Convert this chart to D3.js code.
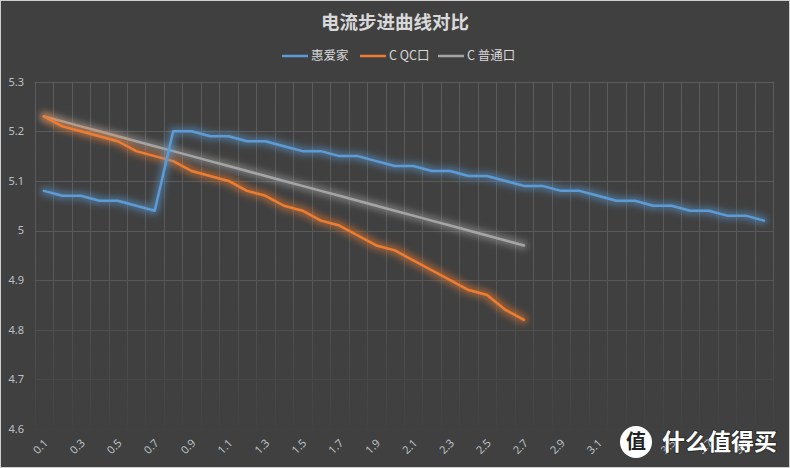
<!DOCTYPE html>
<html>
<head>
<meta charset="utf-8">
<script src="https://cdn.jsdelivr.net/npm/d3@7"></script>
<style>
  html, body { margin: 0; padding: 0; background: #404040; }
  svg { display: block; }
</style>
</head>
<body>
<div id="wrapper"></div>
<script>
const categories = ['0.1','0.2','0.3','0.4','0.5','0.6','0.7','0.8','0.9','1.0',
  '1.1','1.2','1.3','1.4','1.5','1.6','1.7','1.8','1.9','2.0',
  '2.1','2.2','2.3','2.4','2.5','2.6','2.7','2.8','2.9','3.0',
  '3.1','3.2','3.3','3.4','3.5','3.6','3.7','3.8','3.9','4.0']

const huiaijia = [5.08, 5.07, 5.07, 5.06, 5.06, 5.05, 5.04, 5.20, 5.20, 5.19,
  5.19, 5.18, 5.18, 5.17, 5.16, 5.16, 5.15, 5.15, 5.14, 5.13,
  5.13, 5.12, 5.12, 5.11, 5.11, 5.10, 5.09, 5.09, 5.08, 5.08,
  5.07, 5.06, 5.06, 5.05, 5.05, 5.04, 5.04, 5.03, 5.03, 5.02]

const cQc = [5.23, 5.21, 5.20, 5.19, 5.18, 5.16, 5.15, 5.14, 5.12, 5.11,
  5.10, 5.08, 5.07, 5.05, 5.04, 5.02, 5.01, 4.99, 4.97, 4.96,
  4.94, 4.92, 4.90, 4.88, 4.87, 4.84, 4.82]

const cNormal = [5.23, 5.22, 5.21, 5.20, 5.19, 5.18, 5.17, 5.16, 5.15, 5.14,
  5.13, 5.12, 5.11, 5.10, 5.09, 5.08, 5.07, 5.06, 5.05, 5.04,
  5.03, 5.02, 5.01, 5.00, 4.99, 4.98, 4.97]

const yTicks = [4.6, 4.7, 4.8, 4.9, 5.0, 5.1, 5.2, 5.3]
const yTickLabels = ['4.6', '4.7', '4.8', '4.9', '5', '5.1', '5.2', '5.3']

const seriesNames = ['惠爱家', 'C QC口', 'C 普通口']
const title = '电流步进曲线对比'

function renderChart (wrapper) {
  const width = 790
  const height = 468
  const left = 34.7
  const right = 773.3
  const top = 81.7
  const bottom = 429
  const colors = ['#5b9bd5', '#ed7d31', '#a5a5a5']
  const numFont = '"Noto Sans", "DejaVu Sans", sans-serif'
  const cjkFont = '"Noto Sans CJK SC", sans-serif'

  const svg = d3.select(wrapper).append('svg')
    .attr('width', width)
    .attr('height', height)

  const defs = svg.append('defs')

  // fade the grid towards the bottom like the original
  const fade = defs.append('linearGradient')
    .attr('id', 'fade')
    .attr('gradientUnits', 'userSpaceOnUse')
    .attr('x1', 0).attr('y1', top).attr('x2', 0).attr('y2', bottom)
  fade.append('stop').attr('offset', '0%').attr('stop-color', '#fff').attr('stop-opacity', 1)
  fade.append('stop').attr('offset', '50%').attr('stop-color', '#fff').attr('stop-opacity', 0.9)
  fade.append('stop').attr('offset', '100%').attr('stop-color', '#fff').attr('stop-opacity', 0.08)
  defs.append('mask').attr('id', 'gridMask')
    .append('rect')
    .attr('x', 0).attr('y', 0).attr('width', width).attr('height', height)
    .attr('fill', 'url(#fade)')

  colors.forEach((c, i) => {
    const f = defs.append('filter')
      .attr('id', 'glow' + i)
      .attr('x', '-10%').attr('y', '-30%').attr('width', '120%').attr('height', '160%')
    f.append('feMorphology').attr('in', 'SourceGraphic').attr('operator', 'dilate').attr('radius', 1.5).attr('result', 'd')
    f.append('feGaussianBlur').attr('in', 'd').attr('stdDeviation', 3.5).attr('result', 'b')
    f.append('feComponentTransfer').attr('in', 'b').attr('result', 'b2')
      .append('feFuncA').attr('type', 'linear').attr('slope', 0.6)
    const m = f.append('feMerge')
    m.append('feMergeNode').attr('in', 'b2')
    m.append('feMergeNode').attr('in', 'SourceGraphic')
  })

  svg.append('rect')
    .attr('x', 0.5).attr('y', 0.5)
    .attr('width', width - 1).attr('height', height - 1)
    .attr('fill', '#404040')
    .attr('stroke', '#cfcfcf')

  const x = d3.scalePoint()
    .domain(categories)
    .range([left, right])
    .padding(0.5)
  const step = x.step()

  const y = d3.scaleLinear()
    .domain([4.6, 5.3])
    .range([bottom, top])

  // grid
  const grid = svg.append('g').attr('mask', 'url(#gridMask)')
  const vLines = categories.map(c => x(c) - step / 2).concat([x(categories[categories.length - 1]) + step / 2])
  grid.selectAll('line.v').data(vLines).enter()
    .append('line')
    .attr('class', 'v')
    .attr('x1', d => Math.round(d) + 0.5).attr('x2', d => Math.round(d) + 0.5)
    .attr('y1', top).attr('y2', bottom)
    .attr('stroke', '#5c5c5c')
  grid.selectAll('line.h').data(yTicks).enter()
    .append('line')
    .attr('class', 'h')
    .attr('x1', left).attr('x2', right)
    .attr('y1', d => Math.round(y(d)) + 0.5).attr('y2', d => Math.round(y(d)) + 0.5)
    .attr('stroke', '#5c5c5c')

  // y labels
  svg.selectAll('text.ylab').data(yTicks).enter()
    .append('text')
    .attr('class', 'ylab')
    .attr('x', 24)
    .attr('y', d => y(d))
    .attr('dy', '0.35em')
    .attr('text-anchor', 'end')
    .attr('fill', '#bcc0c6')
    .style('font-family', numFont)
    .style('font-size', '11px')
    .text((d, i) => yTickLabels[i])

  // x labels, every other category
  svg.selectAll('text.xlab').data(categories.filter((c, i) => i % 2 === 0)).enter()
    .append('text')
    .attr('class', 'xlab')
    .attr('transform', d => 'translate(' + (x(d) + 2) + ',' + 441 + ') rotate(-45)')
    .attr('dy', '0.35em')
    .attr('text-anchor', 'end')
    .attr('fill', '#bcc0c6')
    .style('font-family', numFont)
    .style('font-size', '11px')
    .text(d => d)

  // lines
  const line = d3.line()
    .x((d, i) => x(categories[i]))
    .y(d => y(d))
  const allSeries = [huiaijia, cQc, cNormal]
  // draw gray first, then orange, then blue on top
  ;[2, 1, 0].forEach(i => {
    svg.append('path')
      .datum(allSeries[i])
      .attr('d', line)
      .attr('fill', 'none')
      .attr('stroke', colors[i])
      .attr('stroke-width', 2.5)
      .attr('stroke-linejoin', 'round')
      .attr('stroke-linecap', 'round')
      .attr('filter', 'url(#glow' + i + ')')
  })

  // title
  svg.append('text')
    .attr('x', 395).attr('y', 23)
    .attr('dy', '0.35em')
    .attr('text-anchor', 'middle')
    .attr('fill', '#d9d9d9')
    .style('font-family', cjkFont)
    .style('font-size', '18.5px')
    .style('font-weight', 'bold')
    .text(title)

  // legend
  const legendX = [282, 360, 438]
  const legend = svg.selectAll('g.legend').data(seriesNames).enter()
    .append('g')
    .attr('class', 'legend')
    .attr('transform', (d, i) => 'translate(' + legendX[i] + ',56)')
  legend.append('line')
    .attr('x1', 0).attr('x2', 26)
    .attr('stroke', (d, i) => colors[i])
    .attr('stroke-width', 2.5)
  legend.append('text')
    .attr('x', 29)
    .attr('dy', '0.35em')
    .attr('fill', '#d9d9d9')
    .style('font-family', cjkFont)
    .style('font-size', '12.5px')
    .text(d => d)

  // site watermark
  const wm = svg.append('g').attr('transform', 'translate(636,442)')
  wm.append('circle').attr('r', 16).attr('fill', '#fff')
  wm.append('text')
    .attr('dy', '0.36em')
    .attr('text-anchor', 'middle')
    .attr('fill', '#222')
    .style('font-family', cjkFont)
    .style('font-size', '20px')
    .style('font-weight', 'bold')
    .text('值')
  svg.append('text')
    .attr('x', 662).attr('y', 442)
    .attr('dy', '0.36em')
    .attr('fill', '#fff')
    .style('font-family', cjkFont)
    .style('font-size', '23px')
    .style('font-weight', 'bold')
    .style('paint-order', 'stroke')
    .style('stroke', 'rgba(0,0,0,0.35)')
    .style('stroke-width', '2px')
    .text('什么值得买')
}

document.addEventListener('DOMContentLoaded', () => {
  renderChart(document.querySelector('#wrapper'))
})
</script>
</body>
</html>
